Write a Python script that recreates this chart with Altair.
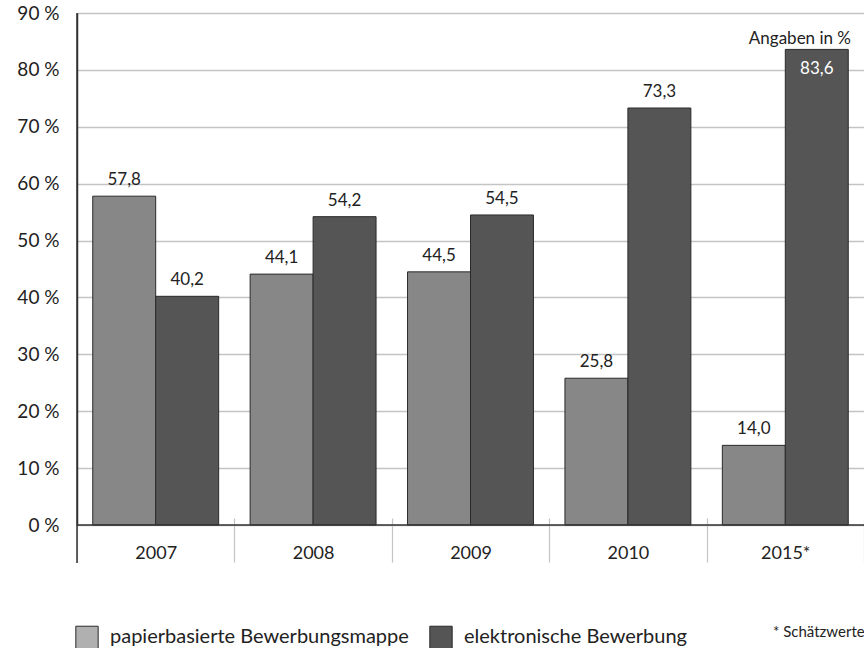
import altair as alt
import pandas as pd

years = ["2007", "2008", "2009", "2010", "2015*"]
paper = [57.8, 44.1, 44.5, 25.8, 14.0]
elec = [40.2, 54.2, 54.5, 73.3, 83.6]
series = ["papierbasierte Bewerbungsmappe", "elektronische Bewerbung"]
y_ticks = [0, 10, 20, 30, 40, 50, 60, 70, 80, 90]

rows = []
for i, y in enumerate(years):
    rows.append({"year": y, "series": series[0], "value": paper[i]})
    rows.append({"year": y, "series": series[1], "value": elec[i]})
df = pd.DataFrame(rows)

FONT = "Lato"
TXT = "#222222"
x_scale = alt.Scale(paddingInner=0, paddingOuter=0)
x_enc = alt.X("year:N", sort=years, title=None, scale=x_scale,
              axis=alt.Axis(domain=False, grid=False, offset=-7, tickBand="extent",
                            tickSize=44, tickColor="#c4c4c4", tickWidth=1.2,
                            labelPadding=-18, labelAngle=0, labelFontSize=18,
                            labelColor=TXT, labelFont=FONT))
xo_enc = alt.XOffset("series:N", sort=series,
                     scale=alt.Scale(paddingInner=0, paddingOuter=0.25))
y_scale = alt.Scale(domain=[0, 90], nice=False)

base = alt.Chart(df)

bars = base.mark_bar(stroke="#2a2a2a", strokeWidth=1).encode(
    x=x_enc,
    xOffset=xo_enc,
    y=alt.Y("value:Q", scale=y_scale, title=None,
            axis=alt.Axis(values=y_ticks, labelExpr="datum.value + ' %'",
                          domain=True, domainColor="#333333", domainWidth=1.5,
                          ticks=False, grid=True, gridColor="#c4c4c4", gridWidth=1.5,
                          labelPadding=18, labelFontSize=19, labelColor=TXT,
                          labelFont=FONT)),
    fill=alt.Fill("series:N", sort=series, legend=None,
                  scale=alt.Scale(domain=series, range=["#878787", "#555555"])),
)

legend_layer = base.mark_square(opacity=0).encode(
    x=alt.X("year:N", sort=years, scale=x_scale),
    xOffset=xo_enc,
    y=alt.Y("value:Q", scale=y_scale),
    color=alt.Color("series:N", sort=series, title=None,
                    scale=alt.Scale(domain=series, range=["#b0b0b0", "#555555"]),
                    legend=alt.Legend(orient="none", legendX=-2, legendY=612,
                                      direction="horizontal",
                                      symbolType="square",
                                      symbolSize=500, symbolOpacity=1,
                                      symbolStrokeColor="#2a2a2a", symbolStrokeWidth=1,
                                      labelFontSize=20, labelFont=FONT,
                                      labelColor=TXT, labelOffset=11,
                                      columnPadding=18, labelLimit=500)),
)

fmt = "replace(format(datum.value, '.1f'), '.', ',')"

labels_above = base.transform_filter("datum.value < 80").transform_calculate(
    lab=fmt).mark_text(baseline="alphabetic", dy=-11, fontSize=17, font=FONT,
                       color=TXT).encode(
    x=alt.X("year:N", sort=years, scale=x_scale), xOffset=xo_enc,
    y=alt.Y("value:Q", scale=y_scale), text="lab:N")

labels_inside = base.transform_filter("datum.value >= 80").transform_calculate(
    lab=fmt).mark_text(baseline="top", dy=12, fontSize=17, font=FONT,
                       color="white").encode(
    x=alt.X("year:N", sort=years, scale=x_scale), xOffset=xo_enc,
    y=alt.Y("value:Q", scale=y_scale), text="lab:N")

zero_line = alt.Chart(pd.DataFrame({"v": [0]})).mark_rule(
    color="#333333", strokeWidth=1.5).encode(y=alt.Y("v:Q", scale=y_scale))

left_line = alt.Chart(pd.DataFrame({"v": [0]})).mark_rule(
    color="#333333", strokeWidth=1.5).encode(
    x=alt.value(0), y=alt.value(0), y2=alt.value(550))

note_top = alt.Chart(pd.DataFrame({"t": ["Angaben in %"]})).mark_text(
    align="right", baseline="alphabetic", fontSize=17, font=FONT, color=TXT).encode(
    x=alt.value(774), y=alt.value(31), text="t:N")

note_bottom = alt.Chart(pd.DataFrame({"t": ["* Schätzwerte"]})).mark_text(
    align="left", baseline="alphabetic", fontSize=15, font=FONT, color=TXT).encode(
    x=alt.value(696), y=alt.value(624), text="t:N")

chart = alt.layer(bars, legend_layer, labels_above, labels_inside, zero_line,
                  left_line, note_top, note_bottom).resolve_scale(
    color="independent", fill="independent").properties(
    width=787, height=512,
    autosize=alt.AutoSizeParams(type="none"),
    padding={"left": 77, "top": 13, "right": 0, "bottom": 123},
).configure_view(stroke=None, fill="#ececec").configure(background="white")

chart.save("out.html", embed_options={"renderer": "svg", "actions": False})
